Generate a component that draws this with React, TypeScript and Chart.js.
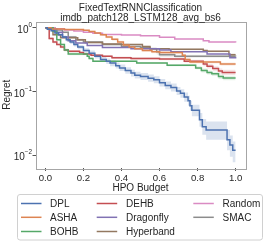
import React, { useEffect, useRef } from 'react';
import { Chart, registerables } from 'chart.js';

Chart.register(...registerables);

// ---------- text ----------
const titleLines = ['FixedTextRNNClassification', 'imdb_patch128_LSTM128_avg_bs6'];
const xAxisLabel = 'HPO Budget';
const yAxisLabel = 'Regret';
const xTicks = [0, 0.2, 0.4, 0.6, 0.8, 1.0];
const xTickLabels = ['0.0', '0.2', '0.4', '0.6', '0.8', '1.0'];
const yTicks = [0.01, 0.1, 1];
const yTickBase = '10';
const yTickExponents = ['\u22122', '\u22121', '0'];

// ---------- series ----------
const dplX = [0, 0.01, 0.03, 0.05, 0.07, 0.09, 0.11, 0.13, 0.15, 0.17, 0.2, 0.23, 0.26, 0.29, 0.32, 0.34, 0.37, 0.39, 0.42, 0.45, 0.47, 0.5, 0.54, 0.57, 0.6, 0.63, 0.66, 0.69, 0.71, 0.73, 0.75, 0.76, 0.77, 0.81, 0.825, 0.845, 0.955, 0.97, 0.985, 1.0];
const dplY = [1.0, 0.95, 0.9, 0.83, 0.78, 0.72, 0.65, 0.6, 0.55, 0.5, 0.44, 0.4, 0.36, 0.32, 0.3, 0.28, 0.255, 0.235, 0.215, 0.195, 0.18, 0.172, 0.162, 0.153, 0.137, 0.125, 0.116, 0.102, 0.094, 0.082, 0.072, 0.06, 0.051, 0.036, 0.028, 0.025, 0.0175, 0.0145, 0.012, 0.012];
const dplLo = [0.99, 0.92, 0.86, 0.79, 0.74, 0.68, 0.61, 0.56, 0.51, 0.46, 0.41, 0.37, 0.33, 0.29, 0.27, 0.25, 0.23, 0.21, 0.19, 0.173, 0.16, 0.152, 0.143, 0.135, 0.12, 0.109, 0.1, 0.088, 0.08, 0.069, 0.06, 0.05, 0.041, 0.028, 0.021, 0.0175, 0.012, 0.0095, 0.0078, 0.0078];
const dplHi = [1.0, 0.98, 0.94, 0.87, 0.82, 0.76, 0.69, 0.64, 0.59, 0.54, 0.48, 0.44, 0.39, 0.35, 0.33, 0.31, 0.285, 0.265, 0.24, 0.22, 0.205, 0.195, 0.185, 0.174, 0.157, 0.144, 0.134, 0.118, 0.109, 0.097, 0.086, 0.072, 0.062, 0.046, 0.037, 0.034, 0.025, 0.0205, 0.0165, 0.0165];

const ashaX = [0, 0.03, 0.1, 0.2, 0.23, 0.26, 0.29, 0.32, 0.35, 0.38, 0.41, 0.44, 0.47, 0.51, 0.56, 0.6, 0.72, 0.735, 0.76, 0.92, 1.0];
const ashaY = [1.0, 0.96, 0.94, 0.92, 0.88, 0.83, 0.78, 0.72, 0.66, 0.6, 0.54, 0.5, 0.47, 0.44, 0.42, 0.41, 0.37, 0.32, 0.29, 0.27, 0.27];
const ashaLo = [1.0, 0.95, 0.93, 0.9, 0.85, 0.8, 0.75, 0.69, 0.63, 0.57, 0.515, 0.48, 0.45, 0.42, 0.4, 0.39, 0.35, 0.3, 0.275, 0.255, 0.255];
const ashaHi = [1.0, 0.97, 0.95, 0.94, 0.91, 0.86, 0.81, 0.75, 0.69, 0.63, 0.565, 0.52, 0.49, 0.46, 0.44, 0.43, 0.39, 0.34, 0.305, 0.285, 0.285];

const bohbX = [0, 0.04, 0.06, 0.08, 0.1, 0.12, 0.22, 0.23, 0.25, 0.48, 0.64, 0.79, 0.82, 0.85, 0.875, 0.91, 0.935, 1.0];
const bohbY = [1.0, 0.88, 0.65, 0.55, 0.45, 0.39, 0.36, 0.33, 0.3, 0.28, 0.26, 0.235, 0.215, 0.2, 0.19, 0.172, 0.163, 0.163];
const bohbLo = [1.0, 0.85, 0.62, 0.53, 0.43, 0.37, 0.345, 0.32, 0.29, 0.27, 0.25, 0.225, 0.2, 0.185, 0.175, 0.158, 0.15, 0.15];
const bohbHi = [1.0, 0.91, 0.68, 0.57, 0.47, 0.41, 0.375, 0.345, 0.31, 0.29, 0.27, 0.25, 0.23, 0.215, 0.205, 0.187, 0.177, 0.177];

const dehbX = [0, 0.02, 0.04, 0.06, 0.08, 0.1, 0.12, 0.18, 0.2, 0.24, 0.3, 0.35, 0.45, 0.6, 0.73, 0.83, 0.85, 0.88, 0.91, 0.93, 1.0];
const dehbY = [1.0, 0.68, 0.6, 0.55, 0.5, 0.45, 0.43, 0.41, 0.39, 0.37, 0.36, 0.34, 0.33, 0.325, 0.3, 0.27, 0.25, 0.23, 0.21, 0.2, 0.2];
const dehbLo = [1.0, 0.65, 0.57, 0.53, 0.48, 0.43, 0.41, 0.395, 0.375, 0.355, 0.345, 0.325, 0.315, 0.31, 0.285, 0.25, 0.23, 0.21, 0.19, 0.182, 0.182];
const dehbHi = [1.0, 0.71, 0.63, 0.57, 0.52, 0.47, 0.45, 0.425, 0.405, 0.385, 0.375, 0.355, 0.345, 0.34, 0.315, 0.29, 0.27, 0.25, 0.23, 0.22, 0.22];

const dragonflyX = [0, 0.03, 0.06, 0.09, 0.12, 0.16, 0.22, 0.3, 0.45, 0.6, 0.66, 0.85, 0.97, 1.0];
const dragonflyY = [1.0, 0.95, 0.85, 0.72, 0.63, 0.58, 0.53, 0.49, 0.47, 0.45, 0.42, 0.39, 0.34, 0.33];

const hyperbandX = [0, 0.04, 0.08, 0.17, 0.21, 0.3, 0.4, 0.51, 0.55, 0.65, 0.83, 0.85, 0.965, 1.0];
const hyperbandY = [1.0, 0.78, 0.7, 0.65, 0.59, 0.56, 0.55, 0.51, 0.47, 0.46, 0.44, 0.43, 0.38, 0.38];
const hyperbandLo = [1.0, 0.76, 0.68, 0.63, 0.57, 0.545, 0.535, 0.495, 0.455, 0.445, 0.425, 0.415, 0.36, 0.36];
const hyperbandHi = [1.0, 0.8, 0.72, 0.67, 0.61, 0.575, 0.565, 0.525, 0.485, 0.475, 0.455, 0.445, 0.4, 0.4];

const randomX = [0, 0.05, 0.1, 0.15, 0.2, 0.25, 0.3, 0.4, 0.5, 0.6, 0.68, 0.83, 0.86, 1.0];
const randomY = [1.0, 0.97, 0.93, 0.89, 0.85, 0.82, 0.79, 0.77, 0.75, 0.71, 0.67, 0.63, 0.6, 0.59];

const smacX = [0, 0.05, 0.09, 0.12, 0.16, 0.2, 0.3, 0.4, 0.5, 0.55, 0.585, 0.6, 0.68, 1.0];
const smacY = [1.0, 0.93, 0.85, 0.72, 0.65, 0.6, 0.55, 0.51, 0.49, 0.47, 0.42, 0.38, 0.36, 0.355];
const smacLo = [1.0, 0.91, 0.82, 0.69, 0.62, 0.58, 0.53, 0.49, 0.47, 0.44, 0.38, 0.35, 0.34, 0.335];
const smacHi = [1.0, 0.95, 0.88, 0.75, 0.68, 0.62, 0.57, 0.53, 0.51, 0.5, 0.46, 0.41, 0.38, 0.375];

const seriesNames = ['DPL', 'ASHA', 'BOHB', 'DEHB', 'Dragonfly', 'Hyperband', 'Random', 'SMAC'];
const seriesColors = ['#4c72b0', '#dd8452', '#55a868', '#c44e52', '#8172b3', '#937860', '#da8bc3', '#8c8c8c'];
const seriesXs = [dplX, ashaX, bohbX, dehbX, dragonflyX, hyperbandX, randomX, smacX];
const seriesYs = [dplY, ashaY, bohbY, dehbY, dragonflyY, hyperbandY, randomY, smacY];

// bands: [series index, lower, upper]
const bandSeries = [0, 1, 2, 3, 5, 7];
const bandLows = [dplLo, ashaLo, bohbLo, dehbLo, hyperbandLo, smacLo];
const bandHighs = [dplHi, ashaHi, bohbHi, dehbHi, hyperbandHi, smacHi];

// ---------- layout ----------
const W = 266;
const H = 243;
const PLOT = { left: 35.5, right: 245.5, top: 21.5, bottom: 168 };
const FONT = '"Liberation Sans", Arial, "DejaVu Sans", sans-serif';
const TEXT = '#262626';

const pts = (xs: number[], ys: number[]) => xs.map((x, i) => ({ x, y: ys[i] }));

const hexToRgba = (hex: string, a: number) => {
  const n = parseInt(hex.slice(1), 16);
  return `rgba(${(n >> 16) & 255},${(n >> 8) & 255},${n & 255},${a})`;
};

const decorPlugin = {
  id: 'decor',
  afterDraw(chart: any) {
    const ctx = chart.ctx as CanvasRenderingContext2D;
    const xs = chart.scales.x;
    const ys = chart.scales.y;
    const a = chart.chartArea;
    ctx.save();
    // frame
    ctx.strokeStyle = '#a6a6a6';
    ctx.lineWidth = 1;
    ctx.strokeRect(Math.round(a.left) + 0.5, Math.round(a.top) + 0.5, Math.round(a.right - a.left), Math.round(a.bottom - a.top));

    ctx.fillStyle = TEXT;
    // title
    ctx.font = `10px ${FONT}`;
    ctx.textAlign = 'center';
    ctx.textBaseline = 'alphabetic';
    const cx = (a.left + a.right) / 2;
    ctx.fillText(titleLines[0], cx, 10.5);
    ctx.fillText(titleLines[1], cx, 20.7);

    // x tick labels
    ctx.font = `9.6px ${FONT}`;
    xTicks.forEach((v, i) => {
      ctx.fillText(xTickLabels[i], xs.getPixelForValue(v), 180.5);
    });
    // x label
    ctx.font = `10px ${FONT}`;
    ctx.fillText(xAxisLabel, cx, 190.5);

    // y tick labels
    yTicks.forEach((v, i) => {
      const py = ys.getPixelForValue(v);
      ctx.textAlign = 'left';
      ctx.font = `6.3px ${FONT}`;
      const we = ctx.measureText(yTickExponents[i]).width;
      ctx.font = `10px ${FONT}`;
      const wb = ctx.measureText(yTickBase).width;
      const R = 32;
      ctx.fillText(yTickBase, R - we - wb, py + 5);
      ctx.font = `6.3px ${FONT}`;
      ctx.fillText(yTickExponents[i], R - we, py - 1);
    });

    // y label
    ctx.save();
    ctx.translate(7.5, (a.top + a.bottom) / 2);
    ctx.rotate(-Math.PI / 2);
    ctx.font = `10px ${FONT}`;
    ctx.textAlign = 'center';
    ctx.textBaseline = 'middle';
    ctx.fillText(yAxisLabel, 0, 0);
    ctx.restore();

    // legend
    const lx = 17.5, ly = 194.5, lw = 245, lh = 45.5;
    ctx.strokeStyle = '#d0d0d0';
    ctx.lineWidth = 1;
    ctx.beginPath();
    const r = 2.5;
    ctx.moveTo(lx + r, ly);
    ctx.arcTo(lx + lw, ly, lx + lw, ly + lh, r);
    ctx.arcTo(lx + lw, ly + lh, lx, ly + lh, r);
    ctx.arcTo(lx, ly + lh, lx, ly, r);
    ctx.arcTo(lx, ly, lx + lw, ly, r);
    ctx.closePath();
    ctx.fillStyle = '#ffffff';
    ctx.fill();
    ctx.stroke();

    const colLineX = [21, 96.7, 193.3];
    const colTextX = [50, 126, 222.5];
    const rowY = [203.5, 217.3, 231.5];
    ctx.font = `10px ${FONT}`;
    ctx.textAlign = 'left';
    ctx.textBaseline = 'middle';
    seriesNames.forEach((name, i) => {
      const col = Math.floor(i / 3);
      const row = i % 3;
      const y = rowY[row];
      ctx.strokeStyle = seriesColors[i];
      ctx.lineWidth = 1.5;
      ctx.beginPath();
      ctx.moveTo(colLineX[col], y);
      ctx.lineTo(colLineX[col] + 20.5, y);
      ctx.stroke();
      ctx.fillStyle = TEXT;
      ctx.fillText(name, colTextX[col], y + 0.5);
    });
    ctx.restore();
  },
};

export default function App() {
  const ref = useRef<HTMLCanvasElement | null>(null);
  useEffect(() => {
    if (!ref.current) return;
    const lineSets = seriesNames.map((name, i) => ({
      label: name,
      data: pts(seriesXs[i], seriesYs[i]),
      borderColor: seriesColors[i],
      backgroundColor: seriesColors[i],
      borderWidth: 1.5,
      pointRadius: 0,
      stepped: true,
      fill: false,
    }));
    const bandSets: any[] = [];
    bandSeries.forEach((si, k) => {
      const xsArr = seriesXs[si];
      bandSets.push({
        label: seriesNames[si] + ' upper',
        data: pts(xsArr, bandHighs[k]),
        borderWidth: 0,
        borderColor: 'rgba(0,0,0,0)',
        pointRadius: 0,
        stepped: true,
        fill: false,
      });
      bandSets.push({
        label: seriesNames[si] + ' lower',
        data: pts(xsArr, bandLows[k]),
        borderWidth: 0,
        borderColor: 'rgba(0,0,0,0)',
        backgroundColor: hexToRgba(seriesColors[si], si === 0 ? 0.2 : 0.15),
        pointRadius: 0,
        stepped: true,
        fill: '-1',
      });
    });
    const chart = new Chart(ref.current, {
      type: 'line',
      data: { datasets: [...lineSets, ...bandSets] as any },
      options: {
        animation: false,
        responsive: true,
        maintainAspectRatio: false,
        layout: { padding: { left: 0, right: W - PLOT.right, top: PLOT.top, bottom: 0 } },
        plugins: {
          legend: { display: false },
          title: { display: false },
          tooltip: { enabled: false },
        },
        scales: {
          x: {
            type: 'linear',
            min: -0.052,
            max: 1.052,
            afterBuildTicks: (s: any) => {
              s.ticks = xTicks.map((v) => ({ value: v }));
            },
            afterFit: (s: any) => {
              s.height = H - PLOT.bottom;
            },
            ticks: { display: false },
            grid: { drawOnChartArea: false, drawTicks: true, tickLength: 3, color: '#555555', lineWidth: 1 },
            border: { display: false },
          },
          y: {
            type: 'logarithmic',
            min: Math.pow(10, -2.2),
            max: Math.pow(10, 0.1),
            afterBuildTicks: (s: any) => {
              s.ticks = yTicks.map((v) => ({ value: v, major: true }));
            },
            afterFit: (s: any) => {
              s.width = PLOT.left;
            },
            ticks: { display: false },
            grid: { drawOnChartArea: false, drawTicks: true, tickLength: 3, color: '#555555', lineWidth: 1 },
            border: { display: false },
          },
        },
      } as any,
      plugins: [decorPlugin],
    });
    return () => chart.destroy();
  }, []);
  return (
    <div style={{ position: 'fixed', left: 0, top: 0, width: W, height: H, background: '#fff' }}>
      <canvas ref={ref} />
    </div>
  );
}
